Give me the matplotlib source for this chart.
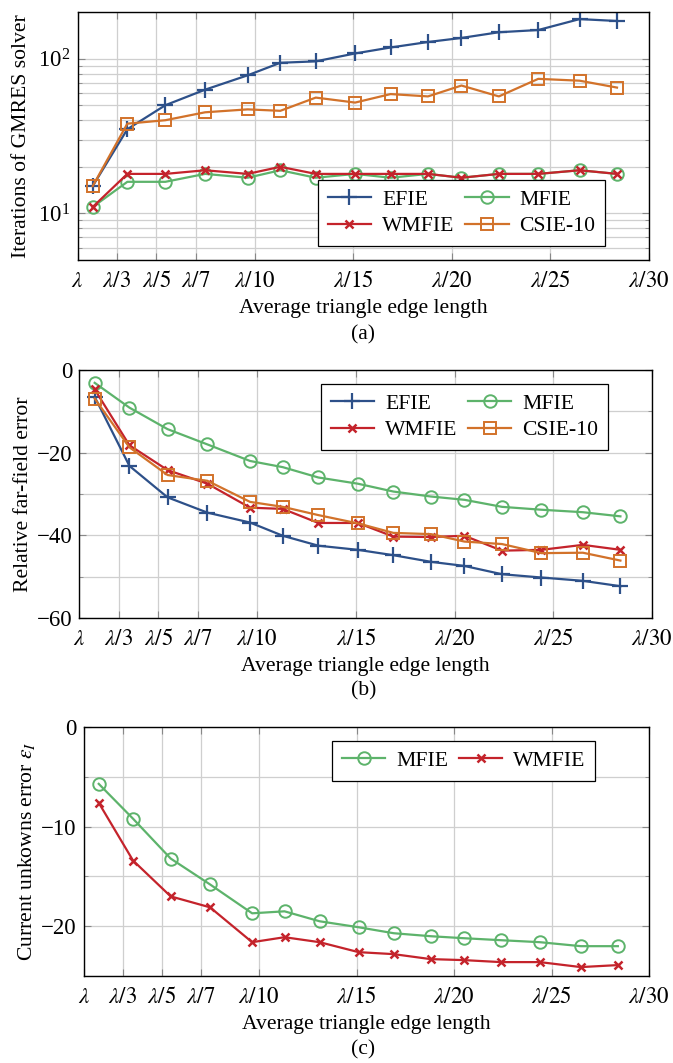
import matplotlib
matplotlib.use("Agg")
import matplotlib.pyplot as plt
from matplotlib.ticker import FixedLocator, MultipleLocator, NullFormatter

plt.rcParams['font.family'] = ['Liberation Serif', 'DejaVu Serif']
plt.rcParams['mathtext.fontset'] = 'stix'
plt.rcParams['font.size'] = 15.6

# mesh density: x = n for an average edge length of lambda/n
x_vals = [1.77, 3.53, 5.46, 7.48, 9.64, 11.3, 13.1, 15.1, 16.9, 18.8, 20.5, 22.4, 24.4, 26.5, 28.4]
tick_n = [1, 3, 5, 7, 10, 15, 20, 25, 30]
tick_labels = [r'$\lambda$', r'$\lambda/3$', r'$\lambda/5$', r'$\lambda/7$', r'$\lambda/10$',
               r'$\lambda/15$', r'$\lambda/20$', r'$\lambda/25$', r'$\lambda/30$']

# (a) GMRES iterations
iter_efie = [15, 35, 50, 63, 78, 94, 96, 108, 118, 128, 136, 148, 153, 180, 175]
iter_mfie = [11, 16, 16, 18, 17, 19, 17, 18, 17, 18, 17, 18, 18, 19, 18]
iter_wmfie = [11, 18, 18, 19, 18, 20, 18, 18, 18, 18, 17, 18, 18, 19, 18]
iter_csie = [15, 38, 40, 45, 47, 46, 56, 52, 59, 57, 67, 57, 74, 72, 65]

# (b) relative far-field error
ff_efie = [-6.5, -23.2, -30.8, -34.5, -36.9, -40.1, -42.5, -43.5, -44.8, -46.4, -47.4, -49.4, -50.2, -51.0, -52.3]
ff_mfie = [-3.1, -9.1, -14.3, -18.0, -22.0, -23.5, -26.0, -27.5, -29.4, -30.6, -31.4, -33.1, -33.8, -34.4, -35.4]
ff_wmfie = [-4.7, -18.2, -24.2, -27.5, -33.3, -33.6, -37.0, -37.0, -40.3, -40.4, -40.1, -43.7, -43.5, -42.3, -43.5]
ff_csie = [-6.9, -18.7, -25.4, -26.8, -31.9, -33.1, -35.1, -37.1, -39.4, -39.7, -41.5, -42.1, -44.3, -44.2, -46.1]

# (c) current unknowns error
cur_mfie = [-5.7, -9.2, -13.2, -15.8, -18.7, -18.5, -19.5, -20.1, -20.7, -21.0, -21.2, -21.4, -21.6, -22.0, -22.0]
cur_wmfie = [-7.6, -13.4, -17.0, -18.1, -21.6, -21.1, -21.6, -22.6, -22.8, -23.3, -23.4, -23.6, -23.6, -24.1, -23.9]

c_efie = '#2d5089'
c_mfie = '#5db36b'
c_wmfie = '#c4232b'
c_csie = '#d2722a'

st_efie = dict(color=c_efie, marker='+', ms=12, mew=1.6, lw=1.6, label='EFIE')
st_mfie = dict(color=c_mfie, marker='o', ms=9, mfc='none', mew=1.4, lw=1.6, label='MFIE')
st_wmfie = dict(color=c_wmfie, marker='x', ms=6, mew=1.8, lw=1.6, label='WMFIE')
st_csie = dict(color=c_csie, marker='s', ms=8, mfc='none', mew=1.4, lw=1.6, label='CSIE-10')

fig = plt.figure(figsize=(6.73, 10.63), dpi=100)
ax_a = fig.add_axes([0.1152, 0.7554, 0.8484, 0.2333])
ax_b = fig.add_axes([0.1181, 0.4186, 0.8507, 0.2333])
ax_c = fig.add_axes([0.1244, 0.0818, 0.8400, 0.2342])


def style_axis(ax):
    ax.set_xlim(1, 30)
    ax.xaxis.set_major_locator(FixedLocator(tick_n))
    ax.set_xticklabels(tick_labels)
    ax.grid(True, which='both', color='#cfcfcf', lw=0.9)
    ax.set_axisbelow(True)
    ax.tick_params(which='both', direction='in', top=True, right=True, color='#888888')
    ax.tick_params(axis='x', which='major', pad=8, length=5, labelsize=16.5)
    ax.tick_params(axis='y', which='major', length=5, pad=5, labelsize=16.5)
    ax.tick_params(which='minor', length=3)
    for s in ax.spines.values():
        s.set_linewidth(1.0)
    ax.set_xlabel('Average triangle edge length', labelpad=5)


def legend(ax, handles, ncol, loc, anchor):
    leg = ax.legend(handles=handles, ncol=ncol, loc=loc, bbox_to_anchor=anchor,
                    fancybox=False, edgecolor='black', framealpha=1,
                    handlelength=2.0, columnspacing=0.5, handletextpad=0.5,
                    borderpad=0.45, labelspacing=0.3, fontsize=15.6)
    leg.get_frame().set_linewidth(0.9)


# (a)
ha1, = ax_a.plot(x_vals, iter_efie, **st_efie)
ha2, = ax_a.plot(x_vals, iter_mfie, **st_mfie)
ha3, = ax_a.plot(x_vals, iter_wmfie, **st_wmfie)
ha4, = ax_a.plot(x_vals, iter_csie, **st_csie)
ax_a.set_yscale('log')
ax_a.set_ylim(5, 200)
ax_a.yaxis.set_minor_formatter(NullFormatter())
style_axis(ax_a)
ax_a.set_ylabel('Iterations of GMRES solver', labelpad=5)
legend(ax_a, [ha1, ha3, ha2, ha4], 2, 'lower right', (0.943, 0.012))

# (b)
hb1, = ax_b.plot(x_vals, ff_efie, **st_efie)
hb2, = ax_b.plot(x_vals, ff_mfie, **st_mfie)
hb3, = ax_b.plot(x_vals, ff_wmfie, **st_wmfie)
hb4, = ax_b.plot(x_vals, ff_csie, **st_csie)
ax_b.set_ylim(-60, 0)
ax_b.yaxis.set_major_locator(MultipleLocator(20))
ax_b.yaxis.set_minor_locator(MultipleLocator(10))
style_axis(ax_b)
ax_b.set_ylabel('Relative far-field error', labelpad=3)
legend(ax_b, [hb1, hb3, hb2, hb4], 2, 'upper right', (0.942, 0.988))

# (c)
hc1, = ax_c.plot(x_vals, cur_mfie, **st_mfie)
hc2, = ax_c.plot(x_vals, cur_wmfie, **st_wmfie)
ax_c.set_ylim(-25, 0)
ax_c.yaxis.set_major_locator(MultipleLocator(10))
ax_c.yaxis.set_minor_locator(MultipleLocator(5))
style_axis(ax_c)
ax_c.set_ylabel(r'Current unkowns error $\epsilon_I$', labelpad=3)
legend(ax_c, [hc1, hc2], 2, 'upper right', (0.924, 0.988))

fig.text(0.54, 1 - 335 / 1063, '(a)', ha='center', va='center', fontsize=15.6)
fig.text(0.54, 1 - 691 / 1063, '(b)', ha='center', va='center', fontsize=15.6)
fig.text(0.54, 1 - 1050 / 1063, '(c)', ha='center', va='center', fontsize=15.6)

fig.savefig('out.png', dpi=100)
